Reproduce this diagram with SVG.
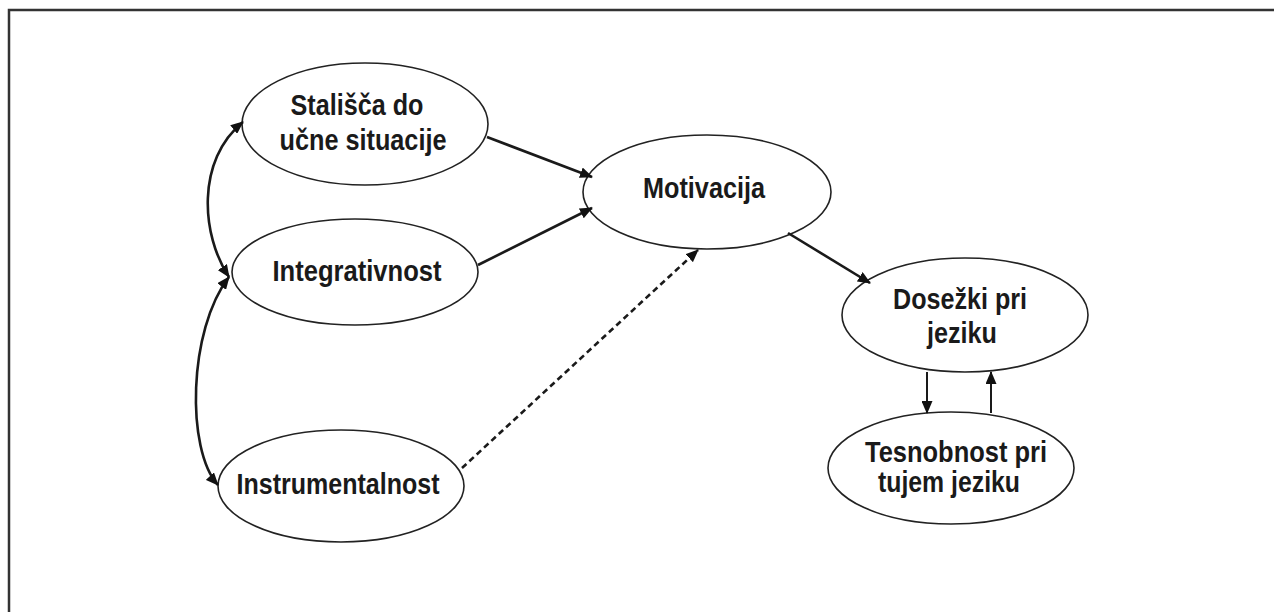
<svg xmlns="http://www.w3.org/2000/svg" width="1274" height="612" viewBox="0 0 1274 612">
<style>
.node ellipse{fill:#fff;stroke:#222;stroke-width:1.6}
.node text{font-family:"Liberation Sans",Arial,sans-serif;font-weight:bold;font-size:29px;fill:#1a1a1a;text-anchor:middle}
.conn path{fill:none;stroke:#1a1a1a;stroke-width:2.6}
.conn .dash{stroke-dasharray:6 4}
.conn .thin{stroke-width:2}
</style>
<defs>
<marker id="ah" viewBox="0 0 13 11" refX="12" refY="5.5" markerWidth="13" markerHeight="11" markerUnits="userSpaceOnUse" orient="auto-start-reverse">
<path d="M0,0 L13,5.5 L0,11 z" fill="#111"/>
</marker>
</defs>
<rect width="1274" height="612" fill="#fff"/>
<path d="M9,612 V10 H1274" fill="none" stroke="#333" stroke-width="2.5"/>
<g id="n-stalisca" class="node">
<ellipse cx="365" cy="124" rx="123" ry="61"/>
<text x="357" y="115" textLength="133" lengthAdjust="spacingAndGlyphs">Stališča do</text>
<text x="363" y="150" textLength="167" lengthAdjust="spacingAndGlyphs">učne situacije</text>
</g>
<g id="n-integrativnost" class="node">
<ellipse cx="355" cy="272" rx="123" ry="53"/>
<text x="357" y="281" textLength="169" lengthAdjust="spacingAndGlyphs">Integrativnost</text>
</g>
<g id="n-instrumentalnost" class="node">
<ellipse cx="341" cy="486" rx="123" ry="56"/>
<text x="338" y="494" textLength="203" lengthAdjust="spacingAndGlyphs">Instrumentalnost</text>
</g>
<g id="n-motivacija" class="node">
<ellipse cx="707" cy="192" rx="124" ry="57"/>
<text x="704" y="198" textLength="122" lengthAdjust="spacingAndGlyphs">Motivacija</text>
</g>
<g id="n-dosezki" class="node">
<ellipse cx="965" cy="315" rx="123" ry="57"/>
<text x="960" y="309" textLength="134" lengthAdjust="spacingAndGlyphs">Dosežki pri</text>
<text x="962" y="343" textLength="70" lengthAdjust="spacingAndGlyphs">jeziku</text>
</g>
<g id="n-tesnobnost" class="node">
<ellipse cx="951" cy="468" rx="123" ry="56"/>
<text x="956" y="462" textLength="182" lengthAdjust="spacingAndGlyphs">Tesnobnost pri</text>
<text x="949" y="492" textLength="142" lengthAdjust="spacingAndGlyphs">tujem jeziku</text>
</g>
<g id="connectors" class="conn">
<path d="M487,137 L592,177" marker-end="url(#ah)"/>
<path d="M478,265 L592,208" marker-end="url(#ah)"/>
<path class="dash" d="M462,468 L698,250" marker-end="url(#ah)"/>
<path d="M788,233 L870,283" marker-end="url(#ah)"/>
<path class="thin" d="M927,372 L927,413" marker-end="url(#ah)"/>
<path class="thin" d="M991,413 L991,372" marker-end="url(#ah)"/>
<path d="M229,277 C201,235 196,160 243,122" marker-start="url(#ah)" marker-end="url(#ah)"/>
<path d="M229,277 C188,330 186,450 218,485" marker-start="url(#ah)" marker-end="url(#ah)"/>
</g>
</svg>
